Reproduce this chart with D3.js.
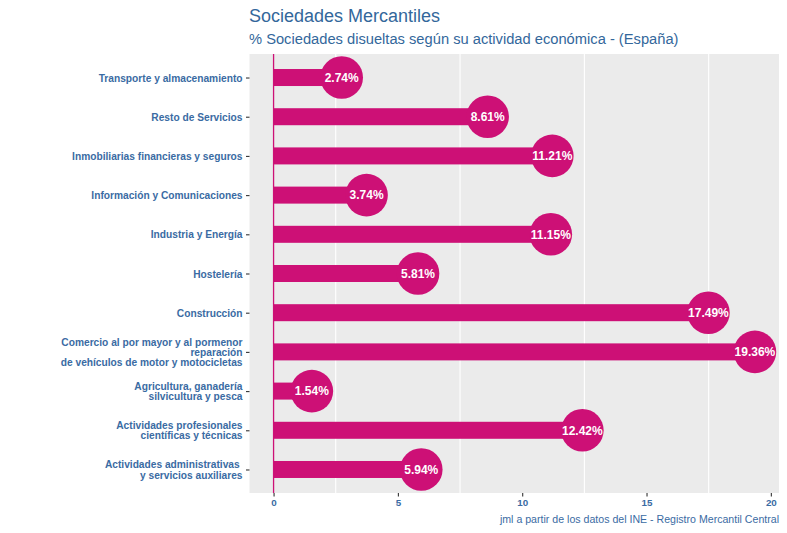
<!DOCTYPE html>
<html><head><meta charset="utf-8">
<script src="https://cdn.jsdelivr.net/npm/d3@7"></script>
<style>body{margin:0;background:#fff;} svg{display:block;}</style>
</head><body>
<script>
const categories = [
  "Transporte y almacenamiento",
  "Resto de Servicios",
  "Inmobiliarias financieras y seguros",
  "Información y Comunicaciones",
  "Industria y Energía",
  "Hostelería",
  "Construcción",
  "Comercio al por mayor y al pormenor\nreparación\nde vehículos de motor y motocicletas",
  "Agricultura, ganadería\nsilvicultura y pesca",
  "Actividades profesionales\ncientíficas y técnicas",
  "Actividades administrativas \ny servicios auxiliares"
];
const values = [2.74, 8.61, 11.21, 3.74, 11.15, 5.81, 17.49, 19.36, 1.54, 12.42, 5.94];
const xTicks = [0, 5, 10, 15, 20];
const xMinorGrid = [2.5, 7.5, 12.5, 17.5];
const title = "Sociedades Mercantiles";
const subtitle = "% Sociedades disueltas según su actividad económica - (España)";
const caption = "jml a partir de los datos del INE - Registro Mercantil Central";

const W = 787, H = 533;
const panel = {left: 249.5, right: 779, top: 54, bottom: 493};
const barColor = "#CD1076";
const textBlue = "#3a6ba3";
const font = "'Liberation Sans', Arial, sans-serif";

const svg = d3.select("body").append("svg").attr("width", W).attr("height", H)
  .style("font-family", font);

const maxV = d3.max(values);
const x = d3.scaleLinear().domain([-0.05 * maxV, maxV * 1.05]).range([panel.left, panel.right]);
const y = d3.scalePoint().domain(categories).range([panel.top, panel.bottom]).padding(0.6);

// panel background
svg.append("rect").attr("x", panel.left).attr("y", panel.top)
  .attr("width", panel.right - panel.left).attr("height", panel.bottom - panel.top)
  .attr("fill", "#EBEBEB");

// grid lines (minor only visible)
svg.append("g").selectAll("line").data(xMinorGrid).join("line")
  .attr("x1", d => x(d)).attr("x2", d => x(d))
  .attr("y1", panel.top).attr("y2", panel.bottom)
  .attr("stroke", "#fff").attr("stroke-width", 1.1);

const barH = 17;
const rows = categories.map((c, i) => ({c, v: values[i]}));

svg.append("g").selectAll("rect").data(rows).join("rect")
  .attr("x", x(0)).attr("y", d => y(d.c) - barH / 2)
  .attr("width", d => x(d.v) - x(0)).attr("height", barH)
  .attr("fill", barColor);

// zero line
svg.append("line").attr("x1", x(0)).attr("x2", x(0))
  .attr("y1", panel.top).attr("y2", panel.bottom)
  .attr("stroke", barColor).attr("stroke-width", 1.3);

svg.append("g").selectAll("circle").data(rows).join("circle")
  .attr("cx", d => x(d.v)).attr("cy", d => y(d.c)).attr("r", 21.3)
  .attr("fill", barColor);

svg.append("g").selectAll("text").data(rows).join("text")
  .attr("x", d => x(d.v)).attr("y", d => y(d.c) + 4.3)
  .attr("text-anchor", "middle").attr("fill", "#fff")
  .attr("font-size", 12).attr("font-weight", "bold")
  .text(d => d.v.toFixed(2) + "%");

// y axis
const yAxis = d3.axisLeft(y).tickSize(3.5).tickPadding(3);
const gy = svg.append("g").attr("transform", `translate(${panel.left},0)`).call(yAxis);
gy.select(".domain").remove();
gy.selectAll(".tick line").attr("stroke", "#333").attr("stroke-width", 1.1);
gy.selectAll(".tick text").each(function(d) {
  const t = d3.select(this);
  const lines = d.split("\n");
  t.text(null).attr("fill", textBlue).attr("font-size", 10.2).attr("font-weight", "bold")
    .attr("font-family", font).attr("dy", null).attr("text-anchor", "end");
  const lh = 10.4;
  const off = -(lines.length - 1) * lh / 2 + 3.5;
  lines.forEach((l, i) => {
    t.append("tspan").attr("x", -7).attr("y", off + i * lh).style("white-space", "pre").text(l);
  });
});

// x axis
const xAxis = d3.axisBottom(x).tickValues(xTicks).tickSize(3.5).tickPadding(3).tickFormat(d3.format("d"));
const gx = svg.append("g").attr("transform", `translate(0,${panel.bottom})`).call(xAxis);
gx.select(".domain").remove();
gx.selectAll(".tick line").attr("stroke", "#333").attr("stroke-width", 1.1);
gx.selectAll(".tick text").attr("fill", textBlue).attr("font-size", 9.8)
  .attr("font-weight", "bold").attr("font-family", font);

// titles
svg.append("text").attr("x", 249).attr("y", 21.5).attr("fill", "#33679b")
  .attr("font-size", 18).text(title);
svg.append("text").attr("x", 249).attr("y", 43.5).attr("fill", "#33679b")
  .attr("font-size", 14.7).text(subtitle);
svg.append("text").attr("x", panel.right).attr("y", 523).attr("text-anchor", "end")
  .attr("fill", textBlue).attr("font-size", 10.6).text(caption);
</script>
</body></html>
